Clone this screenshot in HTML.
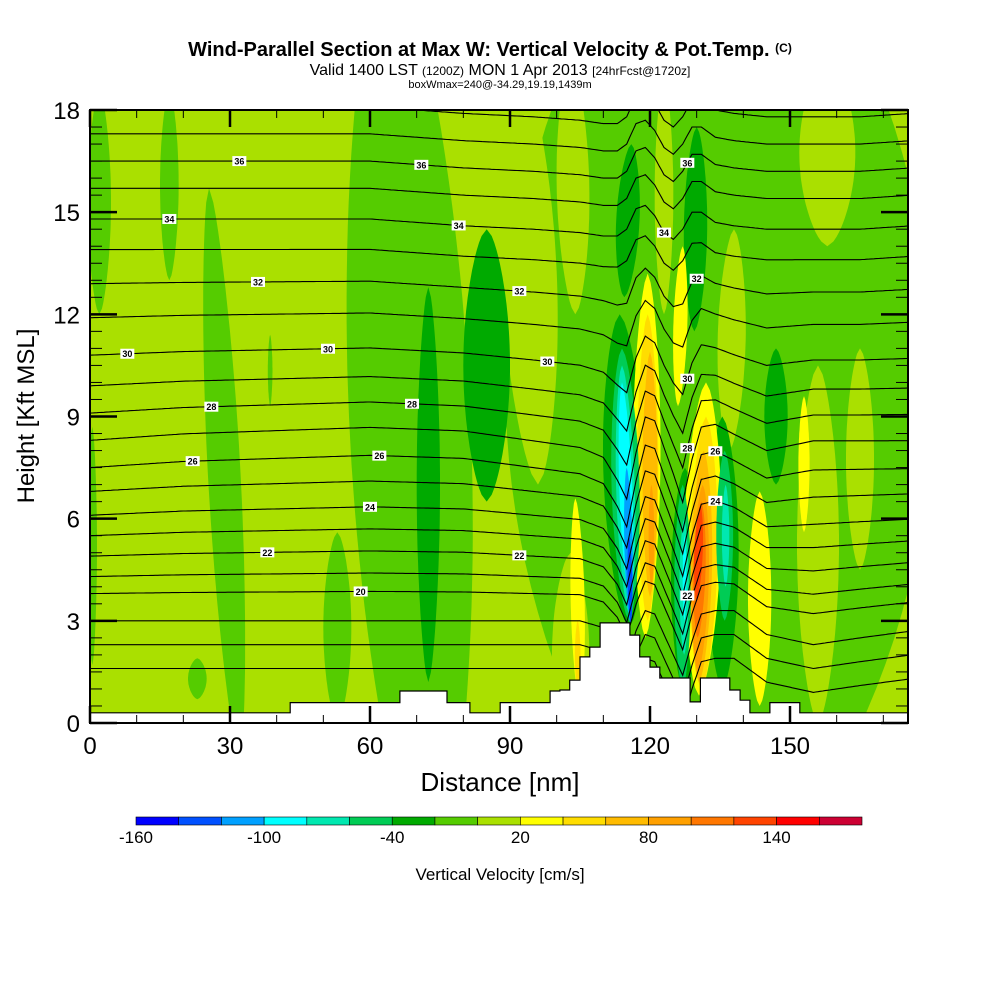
<!DOCTYPE html>
<html><head><meta charset="utf-8"><style>
html,body{margin:0;padding:0;background:#fff;}
svg{display:block;font-family:"Liberation Sans",sans-serif;}
</style></head><body>
<svg id="chart" width="1000" height="1000" viewBox="0 0 1000 1000">
<defs><clipPath id="plotclip"><rect x="90" y="110" width="818" height="613"/></clipPath></defs>
<text x="490" y="56" text-anchor="middle" font-size="20" font-weight="bold">Wind-Parallel Section at Max W: Vertical Velocity &amp; Pot.Temp. <tspan font-size="12" dy="-4">(C)</tspan></text>
<text x="500" y="75" text-anchor="middle" font-size="16">Valid 1400 LST <tspan font-size="12">(1200Z)</tspan> MON 1 Apr 2013 <tspan font-size="12">[24hrFcst@1720z]</tspan></text>
<text x="500" y="88" text-anchor="middle" font-size="11">boxWmax=240@-34.29,19.19,1439m</text>
<rect x="90" y="110" width="818" height="613" fill="#aae000"/>
<g id="field" clip-path="url(#plotclip)"></g>
<g id="contours" clip-path="url(#plotclip)"></g>
<g id="terrain"></g>
<g id="clabels"></g>
<rect x="90" y="110" width="818" height="613" fill="none" stroke="#000" stroke-width="2"/>
<g id="axes"></g>
<text x="500" y="791" text-anchor="middle" font-size="26">Distance [nm]</text>
<text transform="translate(34,416) rotate(-90)" text-anchor="middle" font-size="24">Height [Kft MSL]</text>
<g id="colorbar"></g>
<text x="500" y="880" text-anchor="middle" font-size="17">Vertical Velocity [cm/s]</text>
</svg>
<script>
// ---- data ----
const binColors = ['#0000ff','#0050ff','#00a0ff','#00ffff','#00e8b0','#00cc55','#00aa00','#55cc00','#aae000','#ffff00','#ffdd00','#ffbb00','#ffa000','#ff7700','#ff4400','#ff0000','#cc0033'];
const binMin = -160, binStep = 20;
const cbarLabels = [-160,-100,-40,20,80,140];
// velocity features: value, center nm at bottom, center nm at top, bottom kft, top kft, half-width nm
const featValue = [-10,-10,10,10,10,10,10,10,10,10,-10,-10,-10,-10,-10,-10,-10,-30,-30,-30,-30,-30,-30,-30,-30,30,30,30,30,30,30,50,50,50,-50,-70,-90,-110,-130,-50,-70,-90,-50,-70,70,90,70,90,110,130];
const featCBot  = [73,135,96,158,156,165,103,137,104,123,2,0.5,17,32,23,38.6,53,72.5,85,147,115.5,114.5,129.5,127.5,135.5,105,119,130.5,126,143.5,153,119.5,131,104.5,115.5,115.5,115.7,115.8,115.9,127,127.3,127.4,136,136.2,120,120.3,130.5,130.3,130.2,130];
const featCTop  = [64,135,92,158,156,165,103,138,103,123,2,0.5,17,25.5,23,38.6,53,72.5,85,147,113.5,116,130,127.5,135.5,104,119.5,132,127,143.5,153,119.5,132,104.5,114,114,114,115,115.5,127,127.3,127.4,136,136.2,120,120.3,131.5,131.3,131,130.8];
const featYBot  = [-5,-5,7,14,0,4.5,-1,8,12,12,12,1.7,13,-1,0.7,9.3,0,1.2,6.5,7,2.8,12.5,11.5,0.8,1,0.5,2.5,0.8,9.3,0.5,5.6,3,1,1,3,3.2,3.5,2.9,2.9,1,2,3,3,4,3.7,4,1.2,1.5,2.5,3.6];
const featYTop  = [23,25,19.5,19.5,10.5,11,5,14.5,19.5,19,18.6,8.7,18.6,15.7,1.9,11.4,5.6,12.8,14.5,11,12,17,17.5,7.5,9,6.6,13.2,10,14,6.8,9.6,12,9,3,11,10.5,10,7.5,5.5,7,6,5.5,8,7,10.9,7,8,7,6.5,6.4];
const featHW    = [13,46,6,6,4.5,3,4,3,3.5,2,2.5,1,2,3.5,2,0.5,3,2.5,5,2.5,4.5,2.5,2.5,3,3.5,1.5,3,4,1.5,2.5,1.2,2.3,3,0.6,3,2,1.4,0.9,0.5,1.8,1,0.4,1.8,0.8,1.6,0.6,2.3,1.8,1.3,0.9];
// potential temperature contours
const thetaLevels = [17,18,19,20,21,22,23,24,25,26,27,28,29,30,31,32,33,34,35,36,37,38];
const thetaHeights = [1.6,2.3,3.0,3.8,4.3,4.9,5.5,6.1,6.8,7.5,8.3,9.1,9.9,10.8,11.9,12.9,13.9,14.8,15.7,16.5,17.3,18.1];
const dispNm  = [0,20,40,60,80,95,105,110,113,115,117,119,121,123,125,127,129,131,134,138,145,155,165,176];
const dispLow = [0,0,0,0,0,0,0,-0.2,-0.6,-1.2,-0.3,0.3,0.2,-0.4,-1.0,-1.6,-0.6,0.2,0.3,0.3,-0.4,-0.7,-0.5,-0.3];
const dispMid = [0,0.2,0.3,0.4,0.3,0,-0.2,-0.5,-1.2,-1.8,-0.4,0.7,0.6,-0.2,-1.0,-1.9,-0.6,0.4,0.5,0.2,-0.3,0,0,0];
const dispHigh= [0,0,0,0,-0.2,-0.3,-0.4,-0.5,-0.5,-0.3,0.3,0.4,0.1,-0.4,-0.6,-0.3,0.2,0.2,-0.1,-0.2,-0.3,-0.3,-0.3,-0.2];
const labelLevel = [36,36,36,34,34,34,32,32,32,30,30,30,28,28,26,26,24,22,22,20,30,28,26,24,22];
const labelNm    = [32,71,128,17,79,123,36,92,130,8,51,98,26,69,22,62,60,38,92,58,128,128,134,134,128];
// terrain steps: start nm and height kft
const terrNm = [0,42.9,66.4,76.5,81.4,87.9,98.6,100.7,102.8,105,107.1,109.3,115.7,117.8,120,122.1,128.6,130.8,137.1,139.3,141.4,145.7,152.1];
const terrH  = [0.3,0.6,0.94,0.6,0.3,0.6,0.94,0.97,1.26,1.94,2.23,2.94,2.58,1.94,1.64,1.32,0.62,1.32,0.97,0.67,0.3,0.6,0.3];
const xTicks = [0,30,60,90,120,150];
const yTicks = [0,3,6,9,12,15,18];

// ---- scales ----
const NS='http://www.w3.org/2000/svg';
const X = nm => 90 + nm*140/30;
const Y = k => 723 - k*613/18;
const XMAX = 175.3;
function colorFor(v){let i=Math.floor((v-binMin)/binStep);i=Math.max(0,Math.min(binColors.length-1,i));return binColors[i];}
function mk(tag,parent,attrs){const e=document.createElementNS(NS,tag);for(const k in attrs)e.setAttribute(k,attrs[k]);parent.appendChild(e);return e;}

// ---- field ----
const field=document.getElementById('field');
for(let f=0;f<featValue.length;f++){
  const N=40,L=[],R=[];
  for(let j=0;j<=N;j++){
    const t=j/N,y=featYBot[f]+t*(featYTop[f]-featYBot[f]);
    const c=featCBot[f]+t*(featCTop[f]-featCBot[f]);
    const w=featHW[f]*Math.pow(Math.sin(Math.PI*t),0.6);
    L.push(X(c-w).toFixed(1)+','+Y(y).toFixed(1));
    R.unshift(X(c+w).toFixed(1)+','+Y(y).toFixed(1));
  }
  const p=mk('polygon',field,{points:L.concat(R).join(' '),fill:colorFor(featValue[f])});
  
  
}

// ---- contours ----
function interp(xs,ys,x){if(x<=xs[0])return ys[0];for(let i=1;i<xs.length;i++){if(x<=xs[i]){const t=(x-xs[i-1])/(xs[i]-xs[i-1]);return ys[i-1]+t*(ys[i]-ys[i-1]);}}return ys[ys.length-1];}
function disp(nm,h){
  const lo=interp(dispNm,dispLow,nm),mi=interp(dispNm,dispMid,nm),hi=interp(dispNm,dispHigh,nm);
  if(h<=3)return lo; if(h<=8)return lo+(mi-lo)*(h-3)/5; if(h<=14)return mi+(hi-mi)*(h-8)/6; return hi;
}
function thetaY(i,nm){const b=thetaHeights[i];return b+disp(nm,b);}
const cg=document.getElementById('contours');
for(let i=0;i<thetaLevels.length;i++){
  const pts=[];
  for(let nm=0;nm<=XMAX+0.5;nm+=0.5){pts.push(X(nm).toFixed(1)+','+Y(thetaY(i,nm)).toFixed(1));}
  const pl=mk('polyline',cg,{points:pts.join(' '),fill:'none',stroke:'#000','stroke-width':1.1});
  
  
}

// ---- terrain ----
const tg=document.getElementById('terrain');
let tp=[X(0)+','+Y(0)];
for(let i=0;i<terrNm.length;i++){
  const x0=X(terrNm[i]),x1=X(i+1<terrNm.length?terrNm[i+1]:XMAX);
  tp.push(x0.toFixed(1)+','+Y(terrH[i]).toFixed(1));
  tp.push(x1.toFixed(1)+','+Y(terrH[i]).toFixed(1));
}
tp.push(X(XMAX)+','+Y(0));
const terr=mk('polygon',tg,{points:tp.join(' '),fill:'#fff',stroke:'#000','stroke-width':1.2});



// ---- contour labels ----
const lg=document.getElementById('clabels');
for(let k=0;k<labelLevel.length;k++){
  const i=thetaLevels.indexOf(labelLevel[k]);
  const cx=X(labelNm[k]),cy=Y(thetaY(i,labelNm[k]));
  const r=mk('rect',lg,{x:cx-7,y:cy-5,width:14,height:10,fill:'#fff'});
  
  
  const t=mk('text',lg,{x:cx,y:cy+3.5,'text-anchor':'middle','font-size':9,'font-weight':'bold'});
  t.textContent=labelLevel[k];
  
  
}

// ---- axes ----
const ag=document.getElementById('axes');
for(let nm=0;nm<=XMAX;nm+=10){
  const major=nm%30===0,len=major?17:8,x=X(nm);
  const a=mk('line',ag,{x1:x,y1:723,x2:x,y2:723-len,stroke:'#000','stroke-width':major?2.5:1});
  
  const b=mk('line',ag,{x1:x,y1:110,x2:x,y2:110+len,stroke:'#000','stroke-width':major?2.5:1});
  
}
for(let k=0;k<=18;k+=0.5){
  const major=k%3===0,len=major?27:12,y=Y(k);
  const a=mk('line',ag,{x1:90,y1:y,x2:90+len,y2:y,stroke:'#000','stroke-width':major?2.5:1});
  
  const b=mk('line',ag,{x1:908,y1:y,x2:908-len,y2:y,stroke:'#000','stroke-width':major?2.5:1});
  
}
xTicks.forEach(v=>{const t=mk('text',ag,{x:X(v),y:754,'text-anchor':'middle','font-size':24});t.textContent=v;
  });
yTicks.forEach(v=>{const t=mk('text',ag,{x:80,y:Y(v)+9,'text-anchor':'end','font-size':24});t.textContent=v;
  });

// ---- colorbar ----
const cbg=document.getElementById('colorbar');
const cbX0=136,cbX1=862,cbW=(cbX1-cbX0)/binColors.length;
binColors.forEach((c,i)=>{const r=mk('rect',cbg,{x:cbX0+i*cbW,y:817,width:cbW,height:8,fill:c,stroke:'#000','stroke-width':0.6});
  });
cbarLabels.forEach(v=>{const i=(v-binMin)/binStep;const t=mk('text',cbg,{x:cbX0+i*cbW,y:843,'text-anchor':'middle','font-size':17});t.textContent=v;
  });
</script>
</body></html>
